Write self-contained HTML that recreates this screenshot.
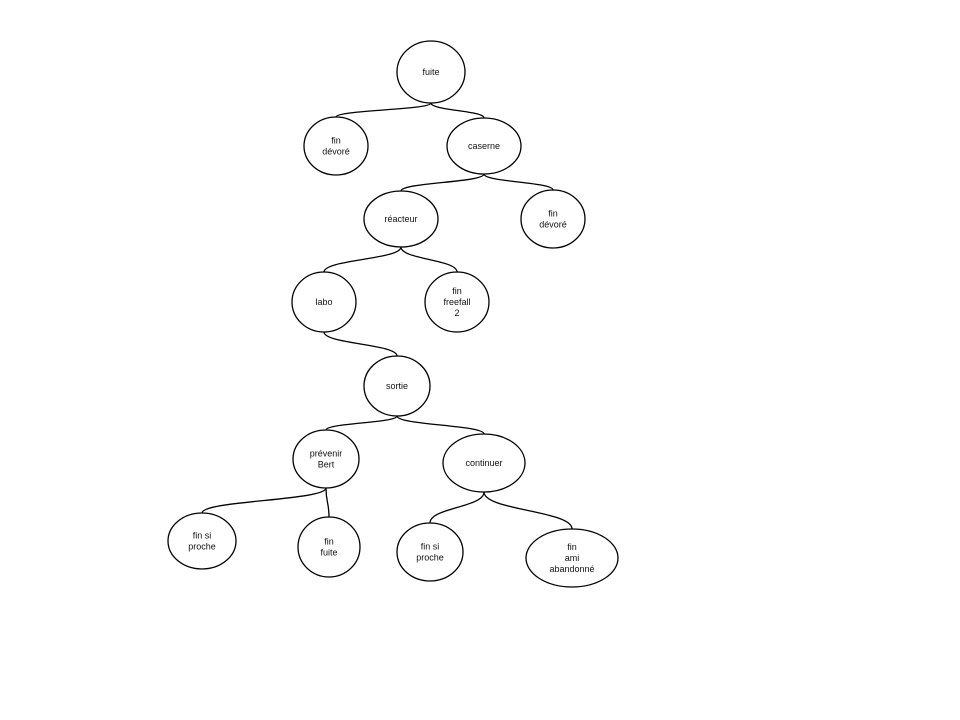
<!DOCTYPE html>
<html><head><meta charset="utf-8"><style>
html,body{margin:0;padding:0;background:#fff;}
svg{display:block;}
text{font-family:"Liberation Sans",Arial,sans-serif;font-size:9px;fill:#111;}
</style></head><body>
<svg id="tree" width="960" height="720" viewBox="0 0 960 720"></svg>
<script>
const nodeIds = ["fuite","finDevore1","caserne","reacteur","finDevore2","labo","freefall","sortie","prevenir","continuer","finProche1","finFuite","finProche2","finAmi"];
const nodeLabels = [["fuite"],["fin","dévoré"],["caserne"],["réacteur"],["fin","dévoré"],["labo"],["fin","freefall","2"],["sortie"],["prévenir","Bert"],["continuer"],["fin si","proche"],["fin","fuite"],["fin si","proche"],["fin","ami","abandonné"]];
const nodeX = [431,336,484,401,553,324,457,397,326,484,202,329,430,572];
const nodeY = [72,146,146,219,219,302,302,386,459,463,541,547,552,558];
const nodeRx = [34,32,37,37,32,32,32,33,33,41,34,31,33,46];
const nodeRy = [31,29,28,28,29,30,30,30,29,29,28,30,29,29];
const edgeFrom = [0,0,2,2,3,3,5,7,7,8,8,9,9];
const edgeTo   = [1,2,3,4,5,6,7,8,9,10,11,12,13];

const svg = document.getElementById('tree');
const NS = "http://www.w3.org/2000/svg";
edgeFrom.forEach((f,i)=>{
  const t = edgeTo[i];
  const x1 = nodeX[f], y1 = nodeY[f]+nodeRy[f];
  const x2 = nodeX[t], y2 = nodeY[t]-nodeRy[t];
  const my = (y1+y2)/2;
  const p = document.createElementNS(NS,'path');
  p.setAttribute('d',`M${x1},${y1} C${x1},${my} ${x2},${my} ${x2},${y2}`);
  p.setAttribute('fill','none');
  p.setAttribute('stroke','#000');
  p.setAttribute('stroke-width','1.3');
  
  
  svg.appendChild(p);
});
nodeIds.forEach((id,i)=>{
  const g = document.createElementNS(NS,'g');
  
  
  const e = document.createElementNS(NS,'ellipse');
  e.setAttribute('cx',nodeX[i]); e.setAttribute('cy',nodeY[i]);
  e.setAttribute('rx',nodeRx[i]); e.setAttribute('ry',nodeRy[i]);
  e.setAttribute('fill','#fff'); e.setAttribute('stroke','#000'); e.setAttribute('stroke-width','1.3');
  
  
  g.appendChild(e);
  const lines = nodeLabels[i];
  const lh = 11;
  const y0 = nodeY[i] - (lines.length-1)*lh/2 + 3;
  lines.forEach((s,k)=>{
    const tx = document.createElementNS(NS,'text');
    tx.setAttribute('x',nodeX[i]); tx.setAttribute('y',y0+k*lh);
    tx.setAttribute('text-anchor','middle');
    
    
    tx.textContent = s;
    g.appendChild(tx);
  });
  svg.appendChild(g);
});
</script>
</body></html>
